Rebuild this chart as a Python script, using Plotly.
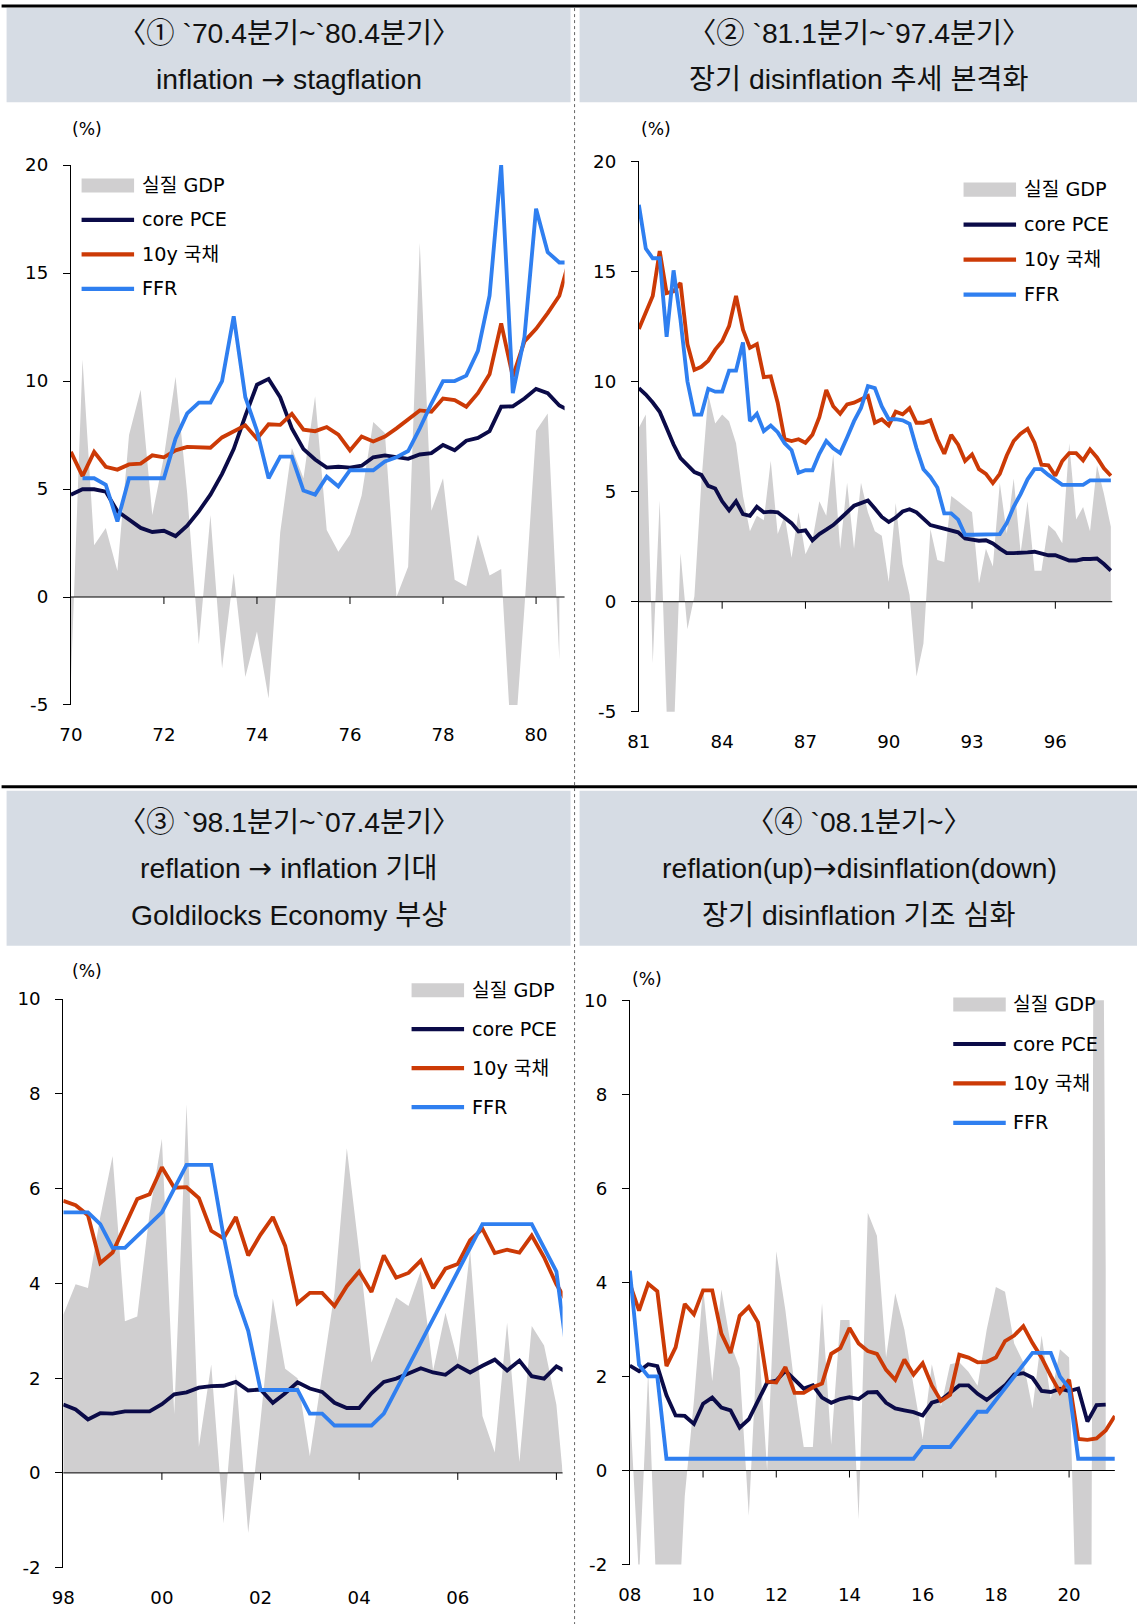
import plotly.graph_objects as go

# Target geometry is expressed in window pixels (1137 x 1624).  The page body
# keeps its default 8px margin and the capture is very slightly reduced, so the
# helpers below convert window pixels into paper fractions of the figure.
W, H = 1137, 1624
OFF = 8
SX, SY = 0.9895, 0.9865
CX, CY = 2.5, 2.0
FIG_W, FIG_H = 1139, 1637

# ---------------- data (quarterly, % ) ----------------
# Panel 1 : 70.4Q ~ (axis labelled every two years)
p1_xlabels = ["70", "72", "74", "76", "78", "80"]
p1_gdp = [-3.9, 11.0, 2.4, 3.2, 1.2, 7.5, 9.6, 3.8, 6.5, 10.2, 4.8, -2.2, 3.8, -3.3, 1.1,
          -3.7, -1.6, -4.7, 3.0, 6.9, 5.5, 9.3, 3.1, 2.1, 2.9, 4.7, 8.1, 7.6, 0.0, 1.4,
          16.4, 4.0, 5.5, 0.8, 0.5, 2.9, 1.0, 1.3, -8.0, -0.5, 7.7, 8.5, -2.9]
p1_core = [4.74, 4.99, 4.99, 4.88, 3.97, 3.59, 3.2, 3.01, 3.07, 2.82, 3.3, 3.97, 4.74, 5.7,
           6.85, 8.39, 9.83, 10.1, 9.25, 7.81, 6.85, 6.37, 5.99, 6.03, 5.99, 6.08, 6.47,
           6.56, 6.5, 6.4, 6.6, 6.66, 7.04, 6.8, 7.24, 7.37, 7.68, 8.81, 8.83, 9.19, 9.64,
           9.44, 8.87, 8.6]
p1_10y = [6.72, 5.6, 6.72, 6.03, 5.9, 6.14, 6.18, 6.56, 6.47, 6.79, 6.95, 6.91, 6.91, 7.39,
          7.66, 7.95, 7.33, 8.0, 7.97, 8.48, 7.75, 7.68, 7.87, 7.52, 6.79, 7.43, 7.2, 7.43,
          7.81, 8.2, 8.64, 8.58, 9.19, 9.12, 8.81, 9.44, 10.31, 12.67, 10.21, 11.84, 12.42,
          13.15, 13.95, 15.9]
p1_ffr = [None, 5.5, 5.5, 5.2, 3.5, 5.5, 5.5, 5.5, 5.5, 7.33, 8.5, 9.0, 9.0, 10.0, 13.0,
          9.25, 7.7, 5.5, 6.5, 6.5, 4.93, 4.74, 5.57, 5.12, 5.87, 5.87, 5.87, 6.28, 6.47,
          6.76, 7.81, 8.96, 10.0, 10.0, 10.25, 11.4, 13.95, 20.0, 9.44, 12.03, 17.98,
          15.97, 15.49, 15.49]

# Panel 2 : 81.1Q ~ 97.4Q
p2_xlabels = ["81", "84", "87", "90", "93", "96"]
p2_gdp = [7.9, 8.5, -2.8, 4.6, -5.0, -6.4, 2.2, -1.25, 0.25, 5.4, 9.4, 8.1, 8.5, 8.2, 7.2,
          4.8, 3.2, 3.9, 3.7, 6.4, 3.07, 3.9, 2.0, 4.06, 2.16, 2.8, 4.56, 3.9, 6.7, 2.4,
          5.4, 2.4, 5.4, 4.06, 3.2, 3.0, 0.9, 4.48, 1.7, 0.3, -3.4, -1.9, 3.3, 1.9, 1.8,
          4.8, 4.56, 4.3, 4.06, 0.83, 2.4, 1.6, 5.4, 3.1, 5.6, 2.24, 4.56, 1.41, 1.41,
          3.48, 3.2, 2.65, 7.2, 3.73, 4.3, 3.2, 6.2, 4.9, 3.4]
p2_core = [9.7, 9.41, 9.05, 8.63, 7.89, 7.14, 6.52, 6.22, 5.89, 5.76, 5.26, 5.14, 4.56,
           4.15, 4.56, 3.98, 3.9, 4.31, 4.06, 4.09, 4.06, 3.81, 3.57, 3.19, 3.24, 2.79,
           3.07, 3.27, 3.48, 3.77, 4.06, 4.36, 4.48, 4.6, 4.23, 3.85, 3.62, 3.82, 4.1,
           4.2, 4.06, 3.77, 3.48, 3.4, 3.32, 3.23, 3.15, 2.87, 2.82, 2.77, 2.79, 2.65,
           2.41, 2.21, 2.21, 2.21, 2.24, 2.27, 2.19, 2.11, 2.11, 1.99, 1.87, 1.87, 1.94,
           1.94, 1.96, 1.71, 1.41]
p2_10y = [12.39, 13.1, 13.89, 15.93, 14.02, 14.1, 14.48, 11.7, 10.53, 10.67, 10.95, 11.45,
          11.83, 12.52, 13.89, 12.36, 11.53, 11.7, 10.2, 10.24, 9.04, 7.38, 7.3, 7.38,
          7.22, 7.58, 8.38, 9.62, 8.88, 8.54, 8.96, 9.04, 9.21, 9.34, 8.13, 8.29, 8.01,
          8.63, 8.51, 8.79, 8.13, 8.13, 8.24, 7.38, 6.72, 7.58, 7.13, 6.39, 6.69, 6.02,
          5.81, 5.39, 5.81, 6.64, 7.3, 7.63, 7.85, 7.22, 6.22, 6.19, 5.72, 6.39, 6.75,
          6.75, 6.42, 6.92, 6.55, 6.06, 5.72]
p2_ffr = [18.03, 16.04, 15.6, 15.6, 12.03, 15.05, 12.8, 10.0, 8.5, 8.5, 9.67, 9.54, 9.54,
          10.5, 10.5, 11.78, 8.2, 8.54, 7.75, 8.0, 7.7, 7.2, 6.88, 5.86, 5.97, 5.97, 6.72,
          7.3, 6.97, 6.75, 7.46, 8.2, 8.8, 9.79, 9.7, 8.87, 8.29, 8.29, 8.24, 8.08, 6.97,
          6.02, 5.67, 5.19, 4.01, 4.01, 3.73, 3.04, 3.04, 3.04, 3.04, 3.04, 3.07, 3.57,
          4.31, 4.89, 5.56, 6.02, 6.02, 5.76, 5.51, 5.31, 5.31, 5.31, 5.31, 5.51, 5.51,
          5.51, 5.51]

# Panel 3 : 98.1Q ~ 07.4Q
p3_xlabels = ["98", "00", "02", "04", "06", ""]
p3_gdp = [3.34, 3.98, 3.9, 5.4, 6.69, 3.2, 3.3, 5.48, 7.05, 1.24, 7.78, 0.55, 2.29, -1.07,
          2.08, -1.27, 1.11, 3.68, 2.2, 2.0, 0.35, 2.08, 3.8, 6.85, 4.67, 2.33, 3.0, 3.7,
          3.52, 4.26, 2.16, 3.38, 2.37, 4.71, 1.2, 0.43, 3.17, 0.23, 3.1, 2.69, 1.44, -1.4]
p3_core = [1.44, 1.34, 1.13, 1.26, 1.25, 1.3, 1.3, 1.3, 1.45, 1.66, 1.7, 1.8, 1.83, 1.84,
           1.92, 1.74, 1.76, 1.48, 1.68, 1.91, 1.78, 1.71, 1.48, 1.37, 1.37, 1.68, 1.92,
           1.99, 2.1, 2.21, 2.12, 2.07, 2.26, 2.12, 2.26, 2.39, 2.16, 2.37, 2.04, 1.99,
           2.25, 2.1]
p3_10y = [5.74, 5.65, 5.44, 4.43, 4.65, 5.23, 5.78, 5.88, 6.45, 6.02, 6.03, 5.8, 5.11, 4.95,
          5.4, 4.59, 5.03, 5.4, 4.79, 3.58, 3.8, 3.8, 3.52, 3.94, 4.25, 3.82, 4.59, 4.12,
          4.22, 4.48, 3.9, 4.31, 4.41, 4.91, 5.15, 4.64, 4.71, 4.65, 5.01, 4.55, 3.98, 3.55]
p3_ffr = [5.5, 5.5, 5.5, 5.25, 4.75, 4.75, 5.0, 5.25, 5.5, 6.0, 6.5, 6.5, 6.5, 5.0, 3.75,
          3.0, 1.75, 1.75, 1.75, 1.75, 1.25, 1.25, 1.0, 1.0, 1.0, 1.0, 1.25, 1.75, 2.25,
          2.75, 3.25, 3.75, 4.25, 4.75, 5.25, 5.25, 5.25, 5.25, 5.25, 4.75, 4.25, 2.25]

# Panel 4 : 08.1Q ~
p4_xlabels = ["08", "10", "12", "14", "16", "18", "20"]
p4_gdp = [1.4, -2.3, 2.1, -2.1, -8.4, -4.4, -0.55, 1.48, 3.9, 1.9, 3.85, 2.7, 2.18, -0.96,
          3.0, 0.0, 4.66, 3.4, 1.8, 0.5, 0.5, 3.56, 0.55, 3.2, 3.2, -1.04, 5.48, 4.99, 2.4,
          3.77, 3.0, 1.8, 0.67, 2.26, 1.36, 2.26, 2.3, 2.1, 1.8, 3.0, 3.9, 3.8, 2.7, 2.3,
          1.32, 2.87, 1.52, 2.58, 2.4, -5.0, -31.4, 33.4, 4.3]
p4_core = [2.23, 2.11, 2.26, 2.22, 1.6, 1.17, 1.16, 0.99, 1.42, 1.55, 1.34, 1.28, 0.91, 1.09,
           1.48, 1.87, 1.91, 2.12, 1.93, 1.74, 1.81, 1.55, 1.44, 1.52, 1.56, 1.52, 1.66,
           1.67, 1.44, 1.32, 1.28, 1.24, 1.17, 1.44, 1.5, 1.66, 1.81, 1.81, 1.63, 1.5,
           1.66, 1.81, 2.04, 2.07, 1.97, 1.69, 1.67, 1.74, 1.69, 1.74, 1.04, 1.39, 1.4, None]
p4_10y = [3.97, 3.4, 3.97, 3.81, 2.22, 2.62, 3.54, 3.32, 3.83, 3.83, 2.91, 2.5, 3.29, 3.48,
          3.15, 1.89, 1.87, 2.2, 1.65, 1.65, 1.77, 1.85, 2.48, 2.6, 3.03, 2.7, 2.54, 2.48,
          2.14, 1.93, 2.36, 2.04, 2.28, 1.81, 1.48, 1.61, 2.46, 2.4, 2.3, 2.31, 2.4, 2.75,
          2.87, 3.07, 2.71, 2.4, 2.01, 1.66, 1.93, 0.67, 0.65, 0.68, 0.85, 1.16]
p4_ffr = [4.25, 2.25, 2.0, 2.0, 0.25, 0.25, 0.25, 0.25, 0.25, 0.25, 0.25, 0.25, 0.25, 0.25,
          0.25, 0.25, 0.25, 0.25, 0.25, 0.25, 0.25, 0.25, 0.25, 0.25, 0.25, 0.25, 0.25,
          0.25, 0.25, 0.25, 0.25, 0.25, 0.5, 0.5, 0.5, 0.5, 0.75, 1.0, 1.25, 1.25, 1.5,
          1.75, 2.0, 2.25, 2.5, 2.5, 2.5, 2.0, 1.75, 0.25, 0.25, 0.25, 0.25, 0.25]

ARROW = '<span style="font-family:DejaVu Sans">→</span>'
titles = [
    ["〈① `70.4분기~`80.4분기〉", "inflation " + ARROW + " stagflation"],
    ["〈② `81.1분기~`97.4분기〉", "장기 disinflation 추세 본격화"],
    ["〈③ `98.1분기~`07.4분기〉", "reflation " + ARROW + " inflation 기대",
     "Goldilocks Economy 부상"],
    ["〈④ `08.1분기~〉", "reflation(up)" + ARROW + "disinflation(down)",
     "장기 disinflation 기조 심화"],
]
series_names = ["실질 GDP", "core PCE", "10y 국채", "FFR"]

# ---------------- style ----------------
GDP_C = "#D0CFD0"
CORE_C = "#0B0B48"
TEN_C = "#CC3A06"
FFR_C = "#2F7FF0"
HEAD_BG = "#D6DCE4"
LW = 3.85
TICK_FONT = dict(family="DejaVu Sans, Noto Sans CJK KR", size=18.2, color="#000")
LEG_FONT = dict(family="DejaVu Sans, Noto Sans CJK KR", size=19.2, color="#000")
TITLE_FONT = dict(family="Liberation Sans, Noto Sans CJK KR", size=28.3, color="#111")


def fx(px):
    """window pixel x -> paper fraction"""
    return ((px - CX) / SX - OFF) / FIG_W


def fy(py):
    """window pixel y -> paper fraction"""
    return 1 - ((py - CY) / SY - OFF) / FIG_H


# pixel geometry of each panel: plot box, axis ranges, tick spacing, legend anchor
panels = [
    dict(gdp=p1_gdp, core=p1_core, ten=p1_10y, ffr=p1_ffr, xlabels=p1_xlabels, step=8,
         box=(69.3, 563.0, 163.9, 703.4), xmax=42.45, yr=(-5, 20), dy=5,
         pct=(85, 128), leg=(80, 138, 184.3, 34.4)),
    dict(gdp=p2_gdp, core=p2_core, ten=p2_10y, ffr=p2_ffr, xlabels=p2_xlabels, step=12,
         box=(637.3, 1110.7, 160.2, 710.2), xmax=68.2, yr=(-5, 20), dy=5,
         pct=(654, 128), leg=(962, 1020, 188.4, 35.0)),
    dict(gdp=p3_gdp, core=p3_core, ten=p3_10y, ffr=p3_ffr, xlabels=p3_xlabels, step=8,
         box=(61.7, 561.0, 997.3, 1565.5), xmax=40.5, yr=(-2, 10), dy=2,
         pct=(85, 969), leg=(410, 468.5, 988.5, 38.9)),
    dict(gdp=p4_gdp, core=p4_core, ten=p4_10y, ffr=p4_ffr, xlabels=p4_xlabels, step=8,
         box=(628.3, 1113.3, 998.4, 1562.4), xmax=53, yr=(-2, 10), dy=2,
         pct=(645, 977), leg=(951.7, 1009.5, 1002.8, 39.4)),
]

fig = go.Figure()
shapes = []
annotations = []
layout_axes = {}

for k, p in enumerate(panels, start=1):
    sfx = "" if k == 1 else str(k)
    xa, ya = "x" + sfx, "y" + sfx
    n = len(p["ten"])
    idx = list(range(n))

    fig.add_trace(go.Scatter(
        x=idx[:len(p["gdp"])], y=p["gdp"], mode="lines", name=series_names[0],
        line=dict(width=0, color=GDP_C), fill="tozeroy", fillcolor=GDP_C,
        xaxis=xa, yaxis=ya, showlegend=False, hoverinfo="skip"))
    for key, col, nm in (("core", CORE_C, series_names[1]), ("ten", TEN_C, series_names[2]),
                         ("ffr", FFR_C, series_names[3])):
        fig.add_trace(go.Scatter(
            x=idx, y=p[key], mode="lines", name=nm, line=dict(color=col, width=LW),
            xaxis=xa, yaxis=ya, showlegend=False, connectgaps=False))

    x0, x1, yt, yb = p["box"]
    ymin, ymax = p["yr"]
    tickpos = [i * p["step"] for i in range(len(p["xlabels"]))]
    ytv = list(range(ymin, ymax + 1, p["dy"]))

    layout_axes["xaxis" + sfx] = dict(
        domain=[fx(x0), fx(x1)], range=[0, p["xmax"]], anchor=ya,
        showline=False, showgrid=False, zeroline=False, ticks="",
        tickmode="array", tickvals=tickpos, ticktext=p["xlabels"],
        tickfont=TICK_FONT, ticklabelstandoff=17, fixedrange=True)
    layout_axes["yaxis" + sfx] = dict(
        domain=[fy(yb), fy(yt)], range=[ymin, ymax], anchor=xa,
        showline=True, linecolor="#000", linewidth=1, ticks="outside", ticklen=7,
        tickcolor="#000", tickwidth=1, tickmode="array", tickvals=ytv,
        ticktext=[str(v) for v in ytv], showgrid=False, zeroline=False,
        tickfont=TICK_FONT, ticklabelstandoff=11, fixedrange=True)

    # horizontal axis drawn through zero, with tick marks hanging below it
    shapes.append(dict(type="line", xref=xa + " domain", yref=ya, x0=0, x1=1, y0=0, y1=0,
                       line=dict(color="#000", width=1)))
    for t in tickpos[1:]:
        shapes.append(dict(type="line", xref=xa, yref=ya, x0=t, x1=t,
                           ysizemode="pixel", yanchor=0, y0=0, y1=-7,
                           line=dict(color="#000", width=1)))

    annotations.append(dict(text="(%)", xref="paper", yref="paper",
                            x=fx(p["pct"][0]), y=fy(p["pct"][1]), showarrow=False,
                            xanchor="center", yanchor="middle",
                            font=dict(family="DejaVu Sans", size=17.2, color="#000")))

    # legend block
    lx, tx, ly, gap = p["leg"]
    sw = 52.5
    shapes.append(dict(type="rect", xref="paper", yref="paper",
                       x0=fx(lx), x1=fx(lx + sw), y0=fy(ly + 7), y1=fy(ly - 7),
                       fillcolor=GDP_C, line=dict(width=0)))
    for j, col in enumerate((CORE_C, TEN_C, FFR_C), start=1):
        yy = ly + gap * j
        shapes.append(dict(type="line", xref="paper", yref="paper",
                           x0=fx(lx), x1=fx(lx + sw), y0=fy(yy), y1=fy(yy),
                           line=dict(color=col, width=4.2)))
    for j, nm in enumerate(series_names):
        annotations.append(dict(text=nm, xref="paper", yref="paper", x=fx(tx),
                                y=fy(ly + gap * j), xanchor="left", yanchor="middle",
                                showarrow=False, font=LEG_FONT))

# header bands
bands = [(5, 569, 7, 101), (578, 1137, 7, 101), (5, 569, 789, 944), (578, 1137, 789, 944)]
line_y = [[32, 78], [32, 78], [820, 867, 913], [820, 867, 913]]
for (bx0, bx1, by0, by1), ttl, ys in zip(bands, titles, line_y):
    shapes.append(dict(type="rect", xref="paper", yref="paper", layer="below",
                       x0=fx(bx0), x1=fx(bx1), y0=fy(by1), y1=fy(by0),
                       fillcolor=HEAD_BG, line=dict(width=0)))
    for txt, yy in zip(ttl, ys):
        annotations.append(dict(text=txt, xref="paper", yref="paper",
                                x=fx((bx0 + bx1) / 2), y=fy(yy), xanchor="center",
                                yanchor="middle", showarrow=False, font=TITLE_FONT))

# frame rules
for yy in (5, 785):
    shapes.append(dict(type="line", xref="paper", yref="paper", x0=fx(0), x1=fx(W),
                       y0=fy(yy), y1=fy(yy), line=dict(color="#000", width=3)))
shapes.append(dict(type="line", xref="paper", yref="paper", x0=fx(573), x1=fx(573),
                   y0=fy(7), y1=fy(H), line=dict(color="#666", width=1, dash="dot")))

fig.update_layout(
    width=FIG_W, height=FIG_H, margin=dict(l=0, r=0, t=0, b=0),
    paper_bgcolor="white", plot_bgcolor="rgba(0,0,0,0)",
    showlegend=False, shapes=shapes, annotations=annotations, **layout_axes)

fig.write_html("out.html")
